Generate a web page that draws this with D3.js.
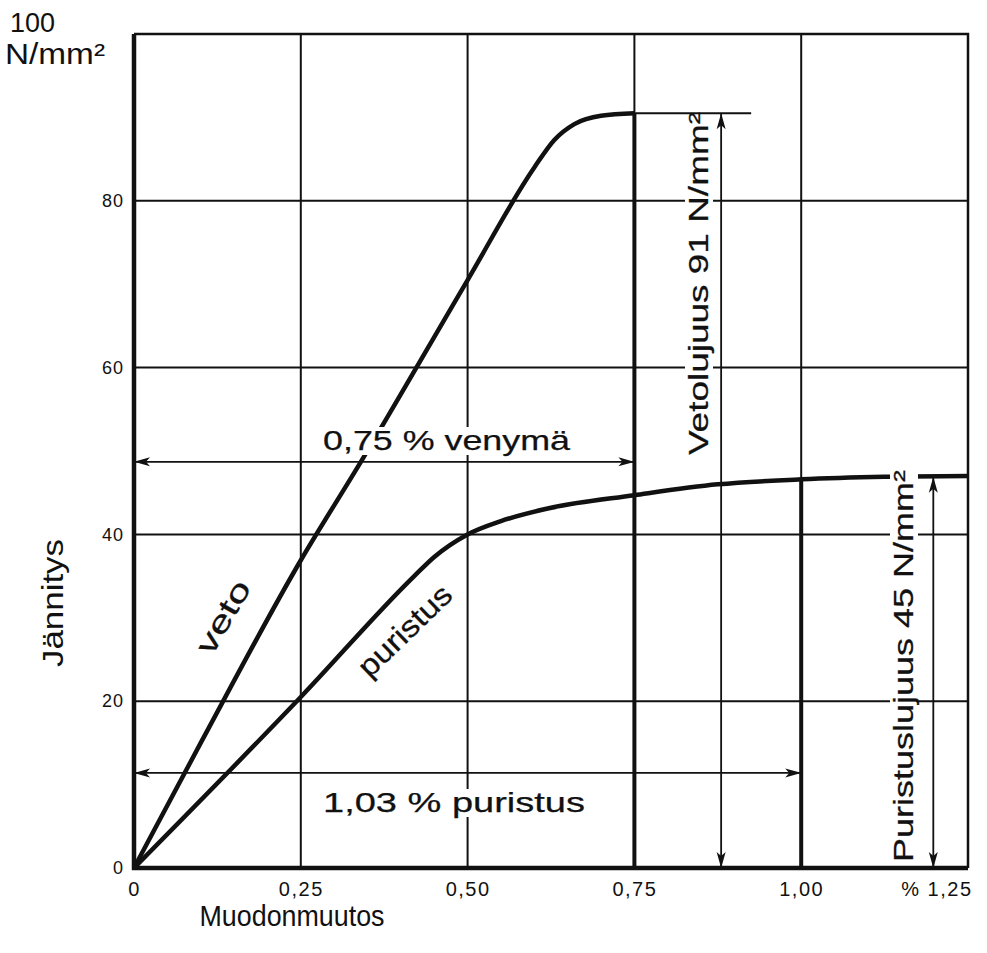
<!DOCTYPE html>
<html>
<head>
<meta charset="utf-8">
<script src="https://cdn.jsdelivr.net/npm/d3@7"></script>
<style>
  body { margin: 0; background: #fff; }
  text { font-family: "Liberation Sans", Arial, sans-serif; fill: #111; }
</style>
</head>
<body>
<script>
// values
var xTicks = [0, 0.25, 0.5, 0.75, 1.0, 1.25];
var xTickLabels = ["0", "0,25", "0,50", "0,75", "1,00", "% 1,25"];
var yTicks = [0, 20, 40, 60, 80];
var gridX = [0.25, 0.5, 0.75, 1.0];
var gridY = [20, 40, 60, 80];

var vetoStrain = [0, 0.1, 0.25, 0.34, 0.5, 0.6, 0.63, 0.66, 0.7, 0.75];
var vetoStress = [0, 15, 36.9, 48.7, 70.5, 84, 87.3, 89.2, 90.2, 90.5];
var puristusStrain = [0, 0.25, 0.42, 0.45, 0.5, 0.55, 0.62, 0.75, 0.875, 1.0, 1.125, 1.25];
var puristusStress = [0, 20.5, 35, 37.3, 40, 41.6, 43.1, 44.7, 46.0, 46.6, 46.9, 47];

var elongation = 0.75, elongationLevel = 48.7;
var compression = 1.0, compressionLevel = 11.4;
var tensileStrength = 90.5, tensileArrowX = 0.88, tensileExtEnd = 0.925;
var compressiveStrength = 46.9, compressiveArrowX = 1.198;

var width = 987, height = 953;
var svg = d3.select("body").append("svg").attr("width", width).attr("height", height);

var x = d3.scaleLinear().domain([0, 1.25]).range([134, 968]);
var y = d3.scaleLinear().domain([0, 100]).range([868, 34]);

var defs = svg.append("defs");
defs.append("marker")
  .attr("id", "arrow")
  .attr("viewBox", "0 -5 16 10")
  .attr("refX", 16).attr("refY", 0)
  .attr("markerWidth", 16).attr("markerHeight", 10)
  .attr("markerUnits", "userSpaceOnUse")
  .attr("orient", "auto-start-reverse")
  .append("path").attr("d", "M0,-4.5L16,0L0,4.5L4,0Z").attr("fill", "#111");

// grid
svg.append("g").selectAll("line").data(gridX).join("line")
  .attr("x1", d => x(d)).attr("x2", d => x(d))
  .attr("y1", y(0)).attr("y2", y(100))
  .attr("stroke", "#111").attr("stroke-width", 2);
svg.append("g").selectAll("line").data(gridY).join("line")
  .attr("x1", x(0)).attr("x2", x(1.25))
  .attr("y1", d => y(d)).attr("y2", d => y(d))
  .attr("stroke", "#111").attr("stroke-width", 2);

// frame top / right
svg.append("path")
  .attr("d", "M" + x(0) + "," + y(100) + "H" + x(1.25) + "V" + y(0))
  .attr("fill", "none").attr("stroke", "#111").attr("stroke-width", 2.5);

// thick drops at failure strains
svg.append("line").attr("x1", x(elongation)).attr("x2", x(elongation))
  .attr("y1", y(0)).attr("y2", y(tensileStrength))
  .attr("stroke", "#111").attr("stroke-width", 4);
svg.append("line").attr("x1", x(compression)).attr("x2", x(compression))
  .attr("y1", y(0)).attr("y2", y(d3.max(puristusStress.slice(0, 10))))
  .attr("stroke", "#111").attr("stroke-width", 4);

// curves
var line = d3.line().x(d => x(d[0])).y(d => y(d[1])).curve(d3.curveMonotoneX);
svg.append("path").datum(d3.zip(vetoStrain, vetoStress))
  .attr("d", line).attr("fill", "none").attr("stroke", "#111").attr("stroke-width", 4.5);
svg.append("path").datum(d3.zip(puristusStrain, puristusStress))
  .attr("d", line).attr("fill", "none").attr("stroke", "#111").attr("stroke-width", 4.5);

// labels with white knockout behind them
function label(transform, str, size, len, anchor) {
  var g = svg.append("g").attr("transform", transform);
  var t = g.append("text").text(str)
    .attr("font-size", size)
    .attr("text-anchor", anchor || "start")
    .attr("stroke", "#111").attr("stroke-width", 0.25);
  if (len) t.attr("textLength", len).attr("lengthAdjust", "spacingAndGlyphs");
  var b = t.node().getBBox();
  g.insert("rect", "text")
    .attr("x", b.x - 2).attr("y", b.y + 2)
    .attr("width", b.width + 4).attr("height", b.height - 3)
    .attr("fill", "#fff");
  return g;
}
label("translate(323,450)", "0,75 % venymä", 28, 247);
label("translate(323,812)", "1,03 % puristus", 28, 262);
label("translate(708,455) rotate(-90)", "Vetolujuus 91 N/mm²", 28, 343);
label("translate(913,862) rotate(-90)", "Puristuslujuus 45 N/mm²", 28, 392);
label("translate(232,622) rotate(-60)", "veto", 30, 80, "middle");
label("translate(412,638) rotate(-44)", "puristus", 30, 118, "middle");

// dimension lines
svg.append("line").attr("x1", x(0)).attr("x2", x(elongation))
  .attr("y1", y(elongationLevel)).attr("y2", y(elongationLevel))
  .attr("stroke", "#111").attr("stroke-width", 1.8)
  .attr("marker-start", "url(#arrow)").attr("marker-end", "url(#arrow)");
svg.append("line").attr("x1", x(0)).attr("x2", x(compression))
  .attr("y1", y(compressionLevel)).attr("y2", y(compressionLevel))
  .attr("stroke", "#111").attr("stroke-width", 1.8)
  .attr("marker-start", "url(#arrow)").attr("marker-end", "url(#arrow)");
svg.append("line").attr("x1", x(elongation)).attr("x2", x(tensileExtEnd))
  .attr("y1", y(tensileStrength)).attr("y2", y(tensileStrength))
  .attr("stroke", "#111").attr("stroke-width", 2);
svg.append("line").attr("x1", x(tensileArrowX)).attr("x2", x(tensileArrowX))
  .attr("y1", y(0)).attr("y2", y(tensileStrength))
  .attr("stroke", "#111").attr("stroke-width", 1.8)
  .attr("marker-start", "url(#arrow)").attr("marker-end", "url(#arrow)");
svg.append("line").attr("x1", x(compressiveArrowX)).attr("x2", x(compressiveArrowX))
  .attr("y1", y(0)).attr("y2", y(compressiveStrength))
  .attr("stroke", "#111").attr("stroke-width", 1.8)
  .attr("marker-start", "url(#arrow)").attr("marker-end", "url(#arrow)");

// axes: thick left and bottom lines
svg.append("path")
  .attr("d", "M" + x(0) + "," + y(100) + "V" + y(0) + "H" + x(1.25))
  .attr("fill", "none").attr("stroke", "#111").attr("stroke-width", 4.5);

var xAxis = svg.append("g").attr("transform", "translate(0," + y(0) + ")")
  .call(d3.axisBottom(x).tickValues(xTicks).tickSize(0).tickPadding(14)
    .tickFormat((d, i) => xTickLabels[i]));
xAxis.select(".domain").remove();
xAxis.selectAll("text").attr("font-size", 20).attr("fill", "#111")
  .attr("letter-spacing", 1.5)
  .style("font-family", "'Liberation Sans', Arial, sans-serif");
xAxis.selectAll("text").filter((d, i) => i === xTicks.length - 1)
  .attr("text-anchor", "end").attr("dx", 4);

var yAxis = svg.append("g").attr("transform", "translate(" + x(0) + ",0)")
  .call(d3.axisLeft(y).tickValues(yTicks).tickSize(0).tickPadding(10));
yAxis.select(".domain").remove();
yAxis.selectAll("text").attr("font-size", 18).attr("fill", "#111")
  .attr("letter-spacing", 1)
  .style("font-family", "'Liberation Sans', Arial, sans-serif");

// axis titles
svg.append("text").attr("x", 10).attr("y", 32).attr("font-size", 28)
  .attr("textLength", 45).attr("lengthAdjust", "spacingAndGlyphs").text("100");
svg.append("text").attr("x", 5).attr("y", 64).attr("font-size", 29)
  .attr("textLength", 100).attr("lengthAdjust", "spacingAndGlyphs").text("N/mm²");
svg.append("text").attr("x", 292).attr("y", 926).attr("font-size", 30)
  .attr("text-anchor", "middle")
  .attr("textLength", 185).attr("lengthAdjust", "spacingAndGlyphs")
  .text("Muodonmuutos");
svg.append("text").attr("transform", "translate(63,603) rotate(-90)")
  .attr("font-size", 29).attr("text-anchor", "middle")
  .attr("textLength", 128).attr("lengthAdjust", "spacingAndGlyphs")
  .text("Jännitys");
</script>
</body>
</html>
